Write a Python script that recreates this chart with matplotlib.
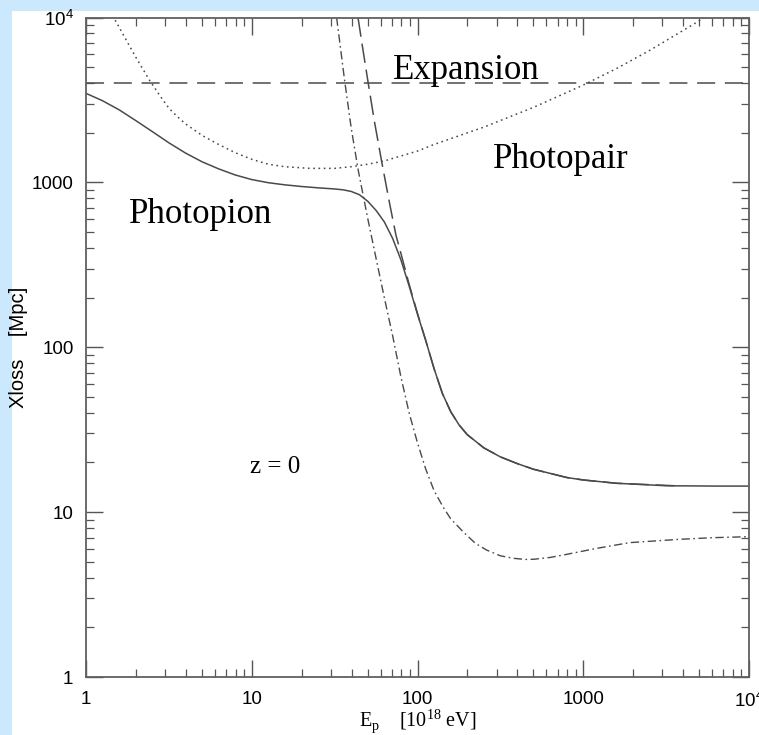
import matplotlib
matplotlib.use("Agg")
import numpy as np
import matplotlib.pyplot as plt
from matplotlib.patches import Rectangle
from matplotlib.ticker import LogLocator, FixedFormatter, FixedLocator, NullFormatter

# energy loss lengths of protons at z = 0
# values are log10(E / 10^18 eV) and log10(L / Mpc)
logE_total = [0, 0.1, 0.2, 0.3, 0.4, 0.5, 0.6, 0.7, 0.8, 0.9, 1.0, 1.1, 1.2, 1.3, 1.4, 1.5,
              1.55, 1.6, 1.65, 1.7, 1.75, 1.8, 1.85, 1.9, 1.95, 2.0, 2.05, 2.1, 2.15, 2.2,
              2.25, 2.3, 2.4, 2.5, 2.6, 2.7, 2.8, 2.9, 3.0, 3.2, 3.5, 3.8, 4.0]
logL_total = [3.540, 3.495, 3.440, 3.375, 3.308, 3.240, 3.178, 3.125, 3.082, 3.045, 3.017,
              2.998, 2.985, 2.975, 2.967, 2.960, 2.955, 2.945, 2.925, 2.885, 2.83, 2.76,
              2.66, 2.53, 2.37, 2.20, 2.04, 1.87, 1.72, 1.61, 1.53, 1.47, 1.39, 1.335,
              1.295, 1.26, 1.235, 1.21, 1.195, 1.175, 1.16, 1.158, 1.158]

logE_pion_exp = [1.641, 1.67, 1.703, 1.74, 1.784, 1.834, 1.87, 1.905, 1.95, 2.0, 2.05, 2.1,
                 2.15, 2.2, 2.25, 2.3, 2.4, 2.5, 2.6, 2.7, 2.8, 2.9, 3.0, 3.2, 3.55]
logL_pion_exp = [4.0, 3.81, 3.60, 3.37, 3.125, 2.86, 2.68, 2.55, 2.38, 2.205, 2.04, 1.87,
                 1.72, 1.61, 1.53, 1.47, 1.39, 1.335, 1.295, 1.26, 1.235, 1.21, 1.195,
                 1.175, 1.16]

logE_pion = [1.512, 1.56, 1.6, 1.643, 1.7, 1.754, 1.8, 1.85, 1.9, 1.95, 2.0, 2.05, 2.1,
             2.155, 2.2, 2.276, 2.35, 2.417, 2.5, 2.578, 2.65, 2.7, 2.8, 2.88, 3.08, 3.28,
             3.58, 3.78, 4.0]
logL_pion = [4.0, 3.62, 3.33, 3.07, 2.78, 2.52, 2.30, 2.07, 1.82, 1.60, 1.42, 1.26, 1.13,
             1.03, 0.96, 0.88, 0.81, 0.77, 0.735, 0.720, 0.713, 0.714, 0.725, 0.740,
             0.780, 0.815, 0.835, 0.845, 0.851]

logE_pair = [0.176, 0.25, 0.3, 0.386, 0.45, 0.5, 0.55, 0.6, 0.7, 0.8, 0.9, 1.0, 1.1, 1.2,
             1.35, 1.5, 1.6, 1.7, 1.8, 1.9, 2.0, 2.1, 2.2, 2.3, 2.4, 2.5, 2.6, 2.7, 2.8,
             2.9, 3.0, 3.1, 3.2, 3.3, 3.4, 3.5, 3.6, 3.7, 3.73]
logL_pair = [3.984, 3.85, 3.76, 3.615, 3.52, 3.45, 3.40, 3.355, 3.285, 3.23, 3.18, 3.14,
             3.11, 3.095, 3.085, 3.085, 3.095, 3.11, 3.13, 3.16, 3.19, 3.23, 3.265, 3.30,
             3.335, 3.375, 3.415, 3.455, 3.50, 3.545, 3.59, 3.64, 3.69, 3.745, 3.80, 3.86,
             3.92, 3.98, 4.0]

E_exp = [1, 10000]
L_exp = [4000, 4000]

plt.rcParams['lines.scale_dashes'] = False
plt.rcParams['font.family'] = 'Liberation Sans'

fig = plt.figure(figsize=(7.59, 7.35), dpi=100)
fig.patch.set_facecolor('#cce8fc')
# white page area, light blue strip left and top
fig.patches.append(Rectangle((12 / 759, 0), 1, (735 - 11) / 735, transform=fig.transFigure,
                             facecolor='white', edgecolor='none', zorder=-10))

ax = fig.add_axes([86 / 759, 58 / 735, 663 / 759, 659.5 / 735])
ax.set_facecolor('white')

gray = '#4a4a4a'
ax.plot(10 ** np.array(logE_total), 10 ** np.array(logL_total), color=gray, lw=1.1, ls='-')
ax.plot(10 ** np.array(logE_pion_exp), 10 ** np.array(logL_pion_exp), color=gray, lw=1.1,
        ls=(0, (14, 5)))
ax.plot(10 ** np.array(logE_pion), 10 ** np.array(logL_pion), color=gray, lw=1.0,
        ls=(0, (6, 2.5, 1.2, 2.5)))
ax.plot(10 ** np.array(logE_pair), 10 ** np.array(logL_pair), color=gray, lw=1.1,
        ls=(0, (1.2, 2.6)))
ax.plot(E_exp, L_exp, color=gray, lw=1.1, ls=(0, (13, 7)))

ax.set_xscale('log')
ax.set_yscale('log')
ax.set_xlim(1, 1e4)
ax.set_ylim(1, 1e4)

majors = [1, 10, 100, 1000, 10000]
labels = ['1', '10', '100', '1000', r'$\mathregular{10^4}$']
for axis in (ax.xaxis, ax.yaxis):
    axis.set_major_locator(FixedLocator(majors))
    axis.set_major_formatter(FixedFormatter(labels))
    axis.set_minor_locator(LogLocator(base=10, subs=range(2, 10)))
    axis.set_minor_formatter(NullFormatter())

ax.tick_params(which='both', direction='in', top=True, right=True, colors='#555555',
               labelcolor='black', labelsize=13.5)
ax.tick_params(which='major', length=12, width=1.0)
ax.tick_params(which='minor', length=6, width=0.9)
ax.tick_params(axis='x', pad=10)
ax.tick_params(axis='y', pad=9)
for s in ax.spines.values():
    s.set_color('#606060')
    s.set_linewidth(1.3)

ax.set_ylabel('Xloss    [Mpc]', fontsize=14.5)
ax.yaxis.set_label_coords(-0.088, 0.5)
ax.set_xlabel(r'E$_\mathregular{p}$    [10$^\mathregular{18}$ eV]', family='Liberation Serif',
              fontsize=14.5)
ax.xaxis.set_label_coords(0.5, -0.046)

serif = dict(family='Liberation Serif', color='black')
ax.text(71.1, 4230, 'Expansion', fontsize=25, **serif)
ax.text(1.82, 564, 'Photopion', fontsize=25, **serif)
ax.text(285.6, 1222, 'Photopair', fontsize=25, **serif)
ax.text(9.76, 17.2, 'z = 0', fontsize=18, **serif)

fig.savefig('out.png', dpi=100, facecolor=fig.get_facecolor())
